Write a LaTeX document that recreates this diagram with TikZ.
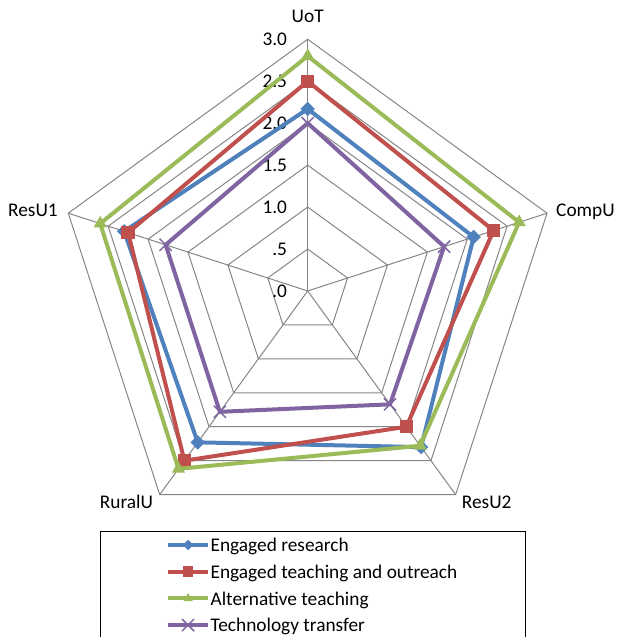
\documentclass[tikz,border=0pt]{standalone}
\usepackage{fontspec}
\setmainfont{Carlito}
\usetikzlibrary{shapes.geometric,shapes.misc}

\definecolor{erblue}{HTML}{4F81BD}
\definecolor{etred}{HTML}{C0504D}
\definecolor{atgreen}{HTML}{9BBB59}
\definecolor{ttpurple}{HTML}{8064A2}
\definecolor{gridgray}{HTML}{868686}

\tikzstyle{gridline}=[draw=gridgray, line width=0.75pt]
\tikzstyle{axislabel}=[inner sep=0pt, font=\fontsize{14.5}{16}\selectfont]
\tikzstyle{ticklabel}=[inner sep=0pt, anchor=base east, font=\fontsize{14.5}{16}\selectfont]
\tikzstyle{legendtext}=[inner sep=0pt, anchor=base west, font=\fontsize{14.5}{16}\selectfont]
\tikzstyle{erline}=[line width=3pt, draw=erblue]
\tikzstyle{etline}=[line width=3pt, draw=etred]
\tikzstyle{atline}=[line width=3pt, draw=atgreen]
\tikzstyle{ttline}=[line width=3pt, draw=ttpurple]
\tikzstyle{ermark}=[diamond, fill=erblue, inner sep=0pt, minimum size=11pt]
\tikzstyle{etmark}=[rectangle, fill=etred, inner sep=0pt, minimum size=10pt]
\tikzstyle{atmark}=[regular polygon, regular polygon sides=3, fill=atgreen, inner sep=0pt, minimum size=11.5pt]
\tikzstyle{ttmark}=[cross out, draw=ttpurple, line width=1.1pt, inner sep=0pt, minimum size=8pt]

\begin{document}
\begin{tikzpicture}[x=62.925pt, y=62.925pt]
            \useasboundingbox (-3.667,-4.124) rectangle (3.698,3.468);
            \coordinate (c) at (0,0);
            \coordinate (uot) at (90:3);
            \coordinate (compu) at (18:3);
            \coordinate (resu2) at (-54:3);
            \coordinate (ruralu) at (-126:3);
            \coordinate (resu1) at (162:3);
            % grid and axes
            \foreach \r in {0.5,1,...,3}
                \draw[gridline] (90:\r) -- (18:\r) -- (-54:\r) -- (-126:\r) -- (162:\r) -- cycle;
            \foreach \v in {uot,compu,resu2,ruralu,resu1}
                \draw[gridline] (c) -- (\v);
            \foreach \t [count=\i from 0] in {.0,.5,1.0,1.5,2.0,2.5,3.0}
                \node[ticklabel] (tick\i) at (-0.243,\i*0.5-0.08) {\t};
            \node[axislabel, anchor=base] (luot) at (0,3.203) {UoT};
            \node[axislabel, anchor=base west] (lcompu) at (2.959,0.886) {CompU};
            \node[axislabel, anchor=base west] (lresu2) at (1.835,-2.590) {ResU2};
            \node[axislabel, anchor=base east] (lruralu) at (-1.840,-2.590) {RuralU};
            \node[axislabel, anchor=base east] (lresu1) at (-2.976,0.886) {ResU1};
            % series
            \draw[erline] (90:2.17) coordinate (er1) -- (18:2.08) coordinate (er2) -- (-54:2.3) coordinate (er3) -- (-126:2.23) coordinate (er4) -- (162:2.3) coordinate (er5) -- cycle;
            \foreach \i in {1,...,5} \node[ermark] (erm\i) at (er\i) {};
            \draw[etline] (90:2.5) coordinate (et1) -- (18:2.33) coordinate (et2) -- (-54:2.0) coordinate (et3) -- (-126:2.5) coordinate (et4) -- (162:2.25) coordinate (et5) -- cycle;
            \foreach \i in {1,...,5} \node[etmark] (etm\i) at (et\i) {};
            \draw[atline] (90:2.8) coordinate (at1) -- (18:2.65) coordinate (at2) -- (-54:2.28) coordinate (at3) -- (-126:2.62) coordinate (at4) -- (162:2.6) coordinate (at5) -- cycle;
            \foreach \i in {1,...,5} \node[atmark] (atm\i) at (at\i) {};
            \draw[ttline] (90:2.0) coordinate (tt1) -- (18:1.71) coordinate (tt2) -- (-54:1.67) coordinate (tt3) -- (-126:1.78) coordinate (tt4) -- (162:1.78) coordinate (tt5) -- cycle;
            \foreach \i in {1,...,5} \node[ttmark] (ttm\i) at (tt\i) {};
            % legend
            \draw[line width=0.75pt] (-2.467,-4.3) -- (-2.467,-2.869) -- (2.594,-2.869) -- (2.594,-4.3);
            \foreach \s/\t [count=\i] in {er/Engaged research, et/Engaged teaching and outreach, at/Alternative teaching, tt/Technology transfer} {
                \coordinate (key\i a) at (-1.665,-2.71-0.318*\i);
                \coordinate (key\i b) at (-1.185,-2.71-0.318*\i);
                \draw[\s line] (key\i a) -- (key\i b);
                \node[\s mark, minimum size=8pt] (keym\i) at (-1.425,-2.71-0.318*\i) {};
                \node[legendtext] (keyt\i) at (-1.16,-2.79-0.318*\i) {\t};
            }
        \end{tikzpicture}
\end{document}
